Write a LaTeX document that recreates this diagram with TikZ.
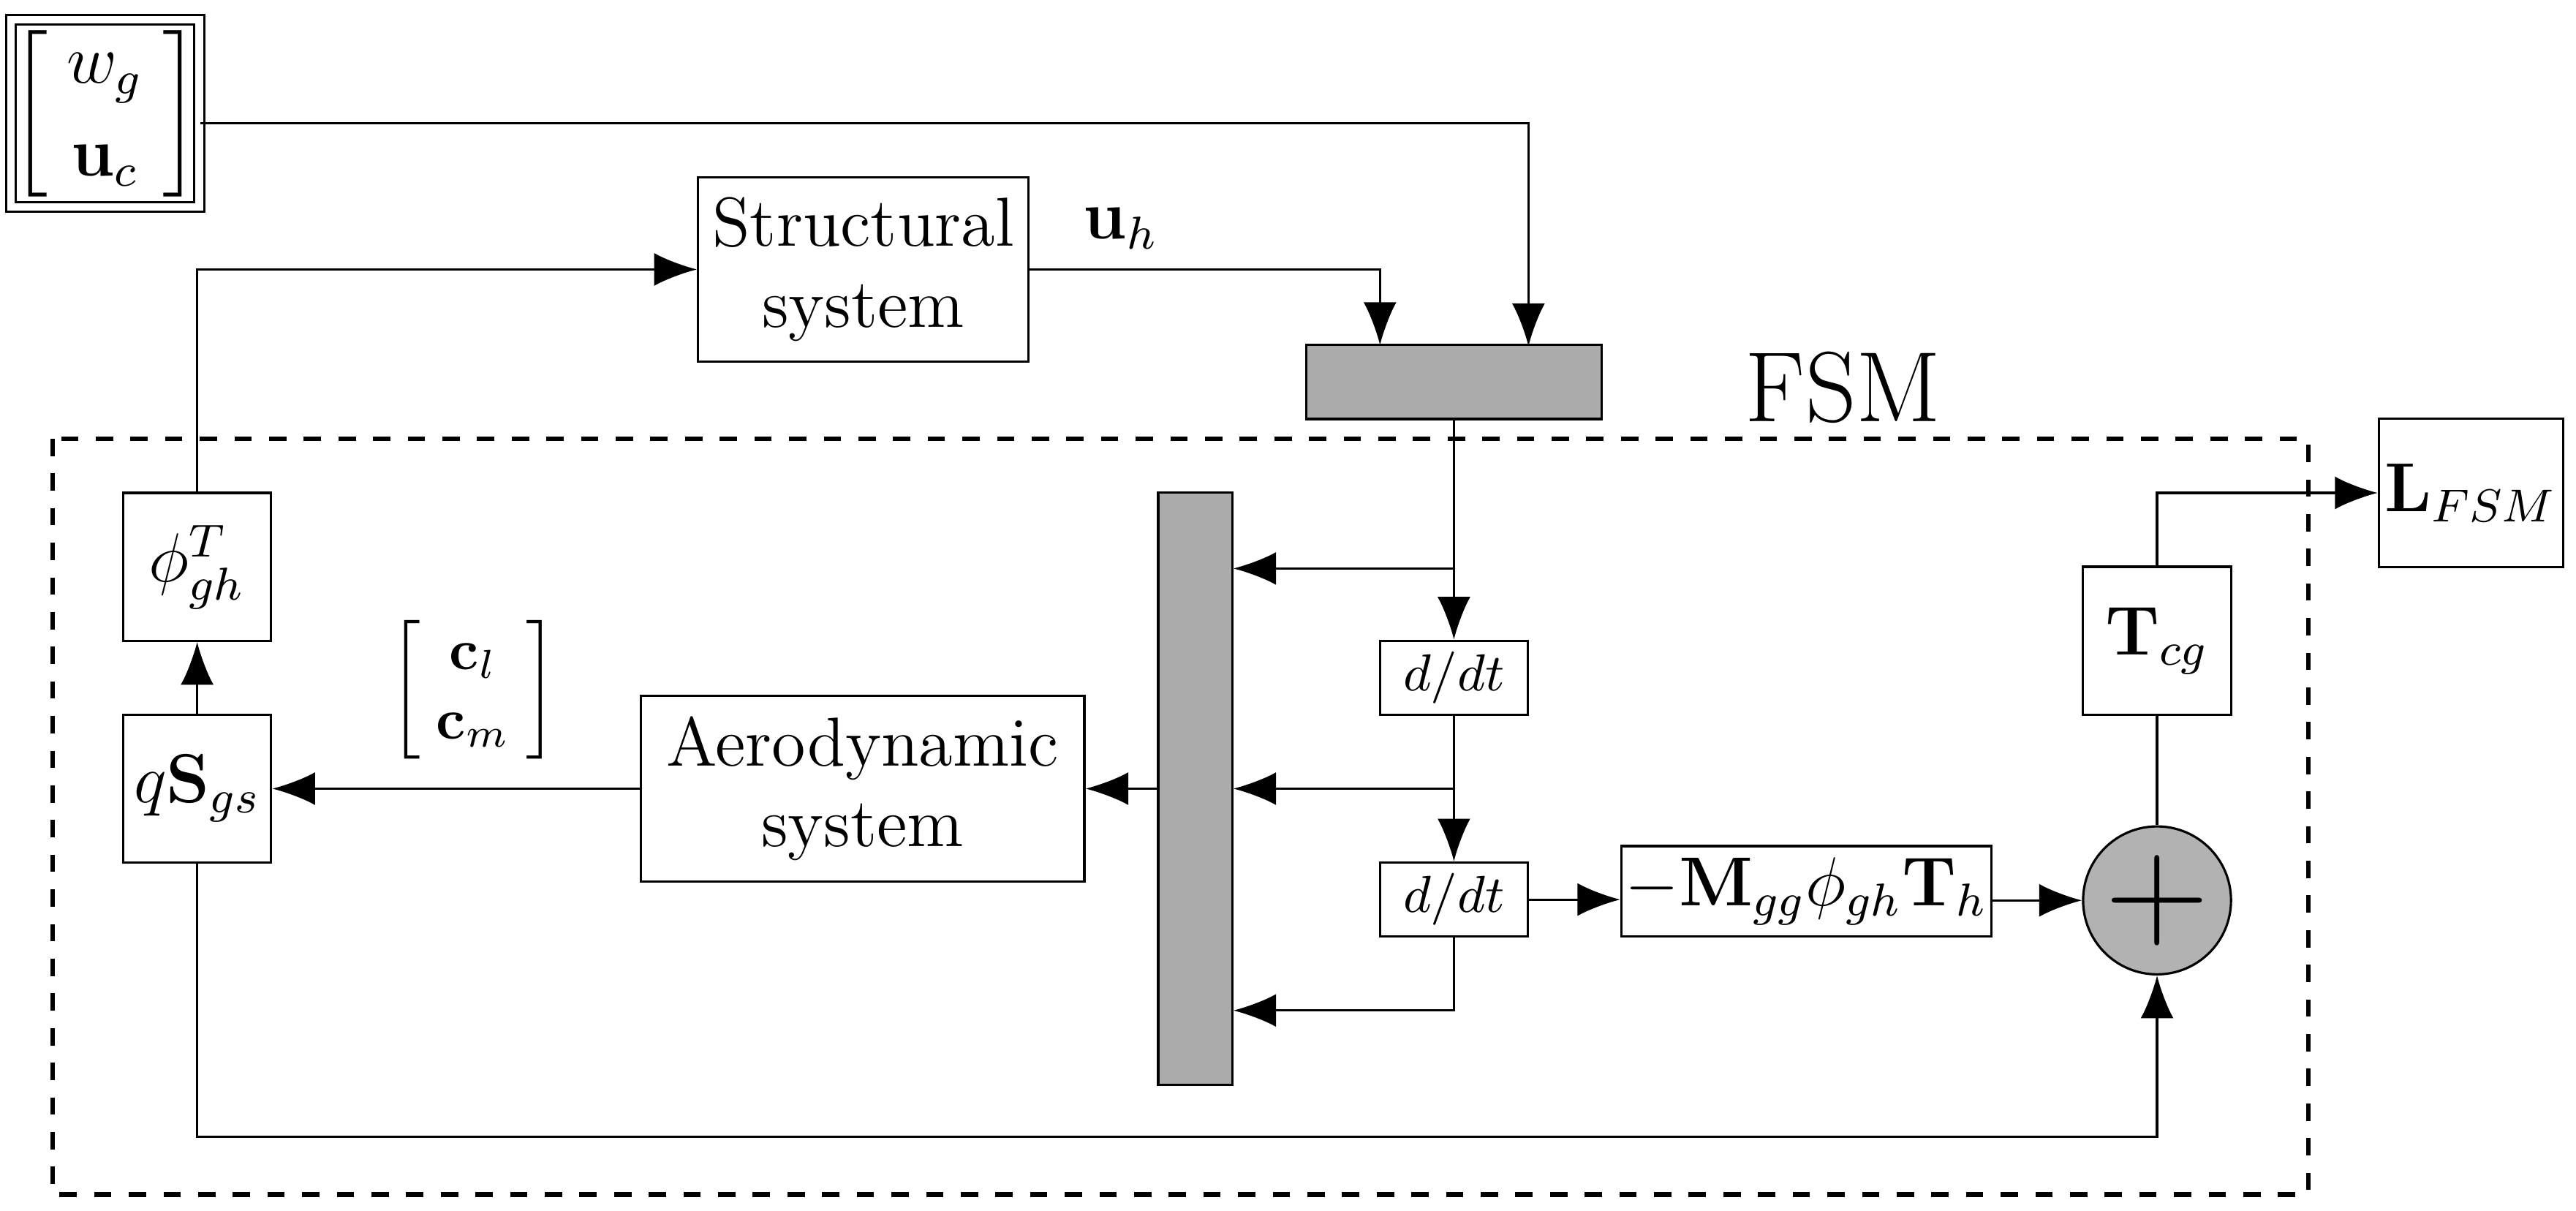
\documentclass[tikz,border=0pt]{standalone}
\usepackage{amsmath}
\usepackage{tikz}
\usetikzlibrary{arrows.meta, positioning, calc}

\begin{document}
\begin{tikzpicture}[
    x=0.01cm, y=-0.01cm,
    % estilos
    block/.style={rectangle, draw=black, fill=white, align=center, font=\large, inner sep=0pt},
    mux/.style={rectangle, draw=black, fill=black!33, inner sep=0pt},
    small/.style={rectangle, draw=black, inner sep=0pt, minimum width=0.9cm, minimum height=0.45cm, font=\small},
    arrow/.style={-{Latex[length=2.6mm,width=2mm]}, thin},
    line/.style={thin}
]
\useasboundingbox (0,0) rectangle (1568,737);

% frontera FSM
\draw[dashed, thick] (32,267) rectangle (1405,727);
\node[font=\LARGE] (fsm) at (1122,236) {FSM};

% entradas
\node[block, double, double distance=1.3pt, minimum width=1.04cm, minimum height=1.14cm] (input) at (64,69)
  {$\left[\;\begin{matrix} w_g \\[2pt] \mathbf{u}_c \end{matrix}\;\right]$};
\node[block, minimum width=2.01cm, minimum height=1.12cm] (struct) at (525.5,164) {Structural\\system};
\node[mux, minimum width=1.8cm, minimum height=0.45cm] (muxtop) at (885,232.5) {};

% dentro del FSM
\node[block, minimum width=0.9cm, minimum height=0.9cm] (phi) at (120,345) {$\phi_{gh}^T$};
\node[block, minimum width=0.9cm, minimum height=0.9cm] (qs) at (120,480) {$q\mathbf{S}_{gs}$};
\node (clcm) at (288,420) {$\left[\;\begin{matrix} \mathbf{c}_l \\ \mathbf{c}_m \end{matrix}\;\right]$};
\node[block, minimum width=2.7cm, minimum height=1.13cm] (aero) at (525,480) {Aerodynamic\\system};
\node[mux, minimum width=0.45cm, minimum height=3.6cm] (bar) at (727.5,480) {};
\node[small] (ddt1) at (885,412.5) {$d/dt$};
\node[small] (ddt2) at (885,547.5) {$d/dt$};
\node[block, minimum width=2.25cm, minimum height=0.55cm] (mass) at (1099.5,542.5) {$-\mathbf{M}_{gg}\phi_{gh}\mathbf{T}_h$};
\node[circle, draw=black, fill=black!30, minimum size=0.9cm, inner sep=0pt, font=\Huge] (sum) at (1313,548) {$+$};
\node[block, minimum width=0.9cm, minimum height=0.9cm] (tcg) at (1313,390) {$\mathbf{T}_{cg}$};
\node[block, minimum width=1.12cm, minimum height=0.9cm] (lfsm) at (1504,300) {$\mathbf{L}_{FSM}$};

% coordenadas auxiliares
\coordinate (b1) at (885,346);
\coordinate (b2) at (885,480);
\coordinate (b3) at (885,615);
\coordinate (loop) at (120,692);

% conexiones
\draw[arrow] (input.east |- 0,75) -| ($(muxtop.south west)!0.75!(muxtop.south east) + (0,-45)$);
\draw[arrow] (phi.north) |- (struct.west);
\draw[arrow] (struct.east) -| node[pos=0.13, above, font=\large] {$\mathbf{u}_h$} (840,210);
\draw[arrow] (muxtop.south) -- (ddt1.north);
\draw[arrow] (b1) -- (bar.east |- b1);
\draw[arrow] (ddt1.south) -- (ddt2.north);
\draw[arrow] (b2) -- (bar.east |- b2);
\draw[arrow] (ddt2.south) |- (bar.east |- b3);
\draw[arrow] (bar.west) -- (aero.east);
\draw[arrow] (aero.west) -- (qs.east);
\draw[arrow] (qs.north) -- (phi.south);
\draw[arrow] (qs.south) |- (loop -| sum) -- (sum.south);
\draw[arrow] (ddt2.east) -- (ddt2.east -| mass.west);
\draw[arrow] (sum.west -| mass.east) -- (sum.west);
\draw[line] (sum.north) -- (tcg.south);
\draw[arrow] (tcg.north) |- (lfsm.west);

\end{tikzpicture}
\end{document}
